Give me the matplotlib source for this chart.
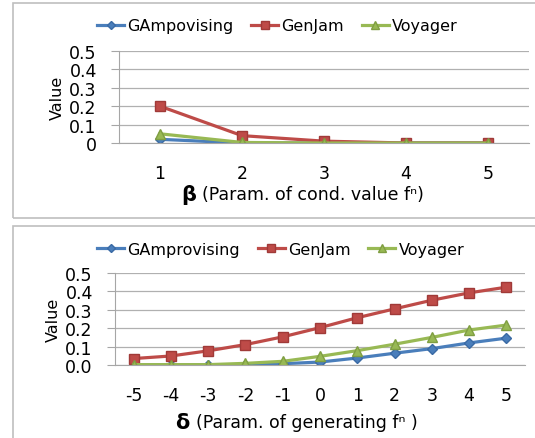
import matplotlib.pyplot as plt
from matplotlib.patches import Rectangle

# data
beta = [1, 2, 3, 4, 5]
ga_beta = [0.02, 0.0, 0.0, 0.0, 0.0]
genjam_beta = [0.20, 0.04, 0.01, 0.0, 0.0]
voyager_beta = [0.05, 0.003, 0.0, 0.0, 0.0]

delta = [-5, -4, -3, -2, -1, 0, 1, 2, 3, 4, 5]
ga_delta = [0.0, 0.0, 0.0, 0.001, 0.007, 0.016, 0.038, 0.064, 0.089, 0.12, 0.146]
genjam_delta = [0.035, 0.049, 0.077, 0.111, 0.153, 0.203, 0.257, 0.305, 0.352, 0.392, 0.423]
voyager_delta = [0.002, 0.002, 0.002, 0.009, 0.02, 0.047, 0.078, 0.113, 0.15, 0.19, 0.217]

W, H = 535, 439
fig = plt.figure(figsize=(W / 100, H / 100), dpi=100)
plt.rcParams['font.family'] = ['DejaVu Sans']

blue, red, green = '#4A7EBB', '#BE4B48', '#98B954'


def box(x0, y0, x1, y1):
    fig.patches.append(Rectangle((x0 / W, 1 - y1 / H), (x1 - x0) / W, (y1 - y0) / H,
                                 transform=fig.transFigure, fill=False,
                                 edgecolor='#bfbfbf', lw=1.2))


def panel(x0, x1, ytop, ybot, xs, ga, gj, vo, ga_name, yticklabels, leg_y):
    ax = fig.add_axes([x0 / W, 1 - ybot / H, (x1 - x0) / W, (ybot - ytop) / H])
    ax.plot(xs, ga, color=blue, lw=2.3, marker='D', ms=5, mec='#3a6aa5', label=ga_name)
    ax.plot(xs, gj, color=red, lw=2.3, marker='s', ms=7, mec='#a03a38', label='GenJam')
    ax.plot(xs, vo, color=green, lw=2.3, marker='^', ms=7, mec='#7f9e42', label='Voyager')
    ax.set_xlim(xs[0] - 0.5, xs[-1] + 0.5)
    ax.set_ylim(0, 0.5)
    ax.set_xticks(xs)
    ax.set_xticklabels([str(v) for v in xs])
    ax.set_yticks([0, 0.1, 0.2, 0.3, 0.4, 0.5])
    ax.set_yticklabels(yticklabels)
    ax.yaxis.grid(True, color='#b0b0b0', lw=0.9)
    ax.set_axisbelow(True)
    for s in ['top', 'right']:
        ax.spines[s].set_visible(False)
    ax.spines['left'].set_color('#a6a6a6')
    ax.spines['bottom'].set_color('#a6a6a6')
    ax.tick_params(axis='x', length=0, pad=15, labelsize=12.5)
    ax.tick_params(axis='y', length=6, color='#a6a6a6', pad=10, labelsize=12.5)
    ax.set_ylabel('Value', fontsize=11.5, labelpad=3)
    ax.legend(loc='center left', bbox_to_anchor=((97 - x0) / (x1 - x0), (ybot - leg_y) / (ybot - ytop)),
              ncol=3, frameon=False, fontsize=11.5, handlelength=1.7, handletextpad=0.2,
              columnspacing=1.1, borderaxespad=0, borderpad=0, markerscale=0.8)
    return ax


box(13, 4, 540, 219)
box(13, 227, 540, 445)

panel(119, 529, 52, 144, beta, ga_beta, genjam_beta, voyager_beta, 'GAmpovising',
      ['0', '0.1', '0.2', '0.3', '0.4', '0.5'], 27)
panel(115, 525, 274, 366, delta, ga_delta, genjam_delta, voyager_delta, 'GAmprovising',
      ['0.0', '0.1', '0.2', '0.3', '0.4', '0.5'], 250)

fig.text(196 / W, 1 - 195 / H, 'β', fontsize=15, fontweight='bold',
         ha='right', va='center')
fig.text(202 / W, 1 - 195 / H, '(Param. of cond. value fⁿ)', fontsize=12.5,
         ha='left', va='center')
fig.text(190 / W, 1 - 423 / H, 'δ', fontsize=15, fontweight='bold',
         ha='right', va='center')
fig.text(196 / W, 1 - 423 / H, '(Param. of generating fⁿ )', fontsize=12.5,
         ha='left', va='center')

fig.savefig('out.png', dpi=100)
